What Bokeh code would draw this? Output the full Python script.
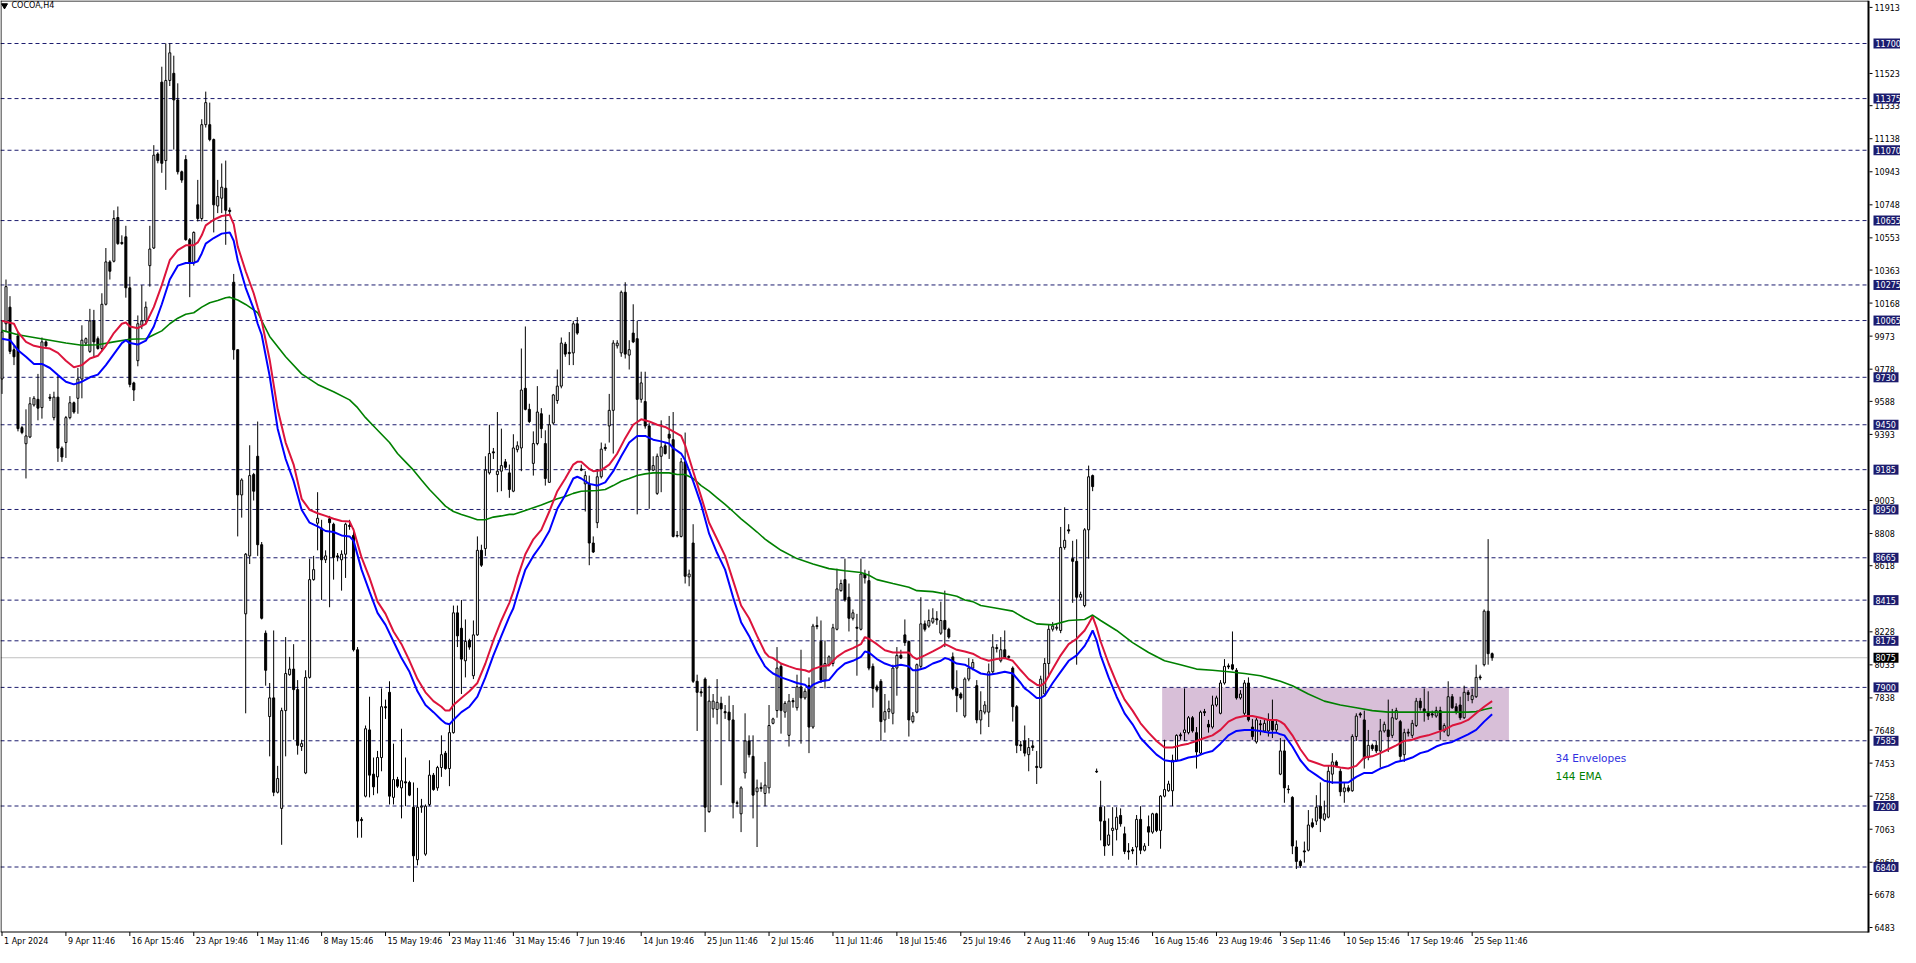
from bokeh.plotting import figure
from bokeh.models import ColumnDataSource, Range1d, BoxAnnotation
from bokeh.core.properties import value
from bokeh.embed import file_html
from bokeh.resources import INLINE

# ---------------- data ----------------
symbol_title = "COCOA,H4"

date_labels = ["1 Apr 2024", "9 Apr 11:46", "16 Apr 15:46", "23 Apr 19:46", "1 May 11:46", "8 May 15:46",
               "15 May 19:46", "23 May 11:46", "31 May 15:46", "7 Jun 19:46", "14 Jun 19:46", "25 Jun 11:46",
               "2 Jul 15:46", "11 Jul 11:46", "18 Jul 15:46", "25 Jul 19:46", "2 Aug 11:46", "9 Aug 15:46",
               "16 Aug 15:46", "23 Aug 19:46", "3 Sep 11:46", "10 Sep 15:46", "17 Sep 19:46", "25 Sep 11:46"]
bars_per_date_label = 16

opens = [
9720,10046,10144,9893,9974,9433,9338,9378,9567,9600,
9551,9939,9613,9492,9613,9312,9345,9492,9580,9606,
9720,9932,9883,10063,9958,9900,10161,10411,10415,10673,
10526,10559,10258,9697,9828,10037,10063,10389,10493,11048,
11472,11009,11482,11524,11367,10943,11015,10542,10405,10748,
10667,11221,11221,11133,10741,10787,10846,10716,10291,9893,
9036,8334,8676,9156,9264,8742,8220,7728,7838,7281,
7186,7763,7975,8008,7887,7551,7395,7959,8536,8869,
8840,8653,8895,8863,8676,8653,8686,8856,8797,8122,
7121,7258,7649,7388,7372,7486,7786,7871,7251,7356,
7307,7343,7339,7193,6883,7193,6916,7209,7382,7307,
7427,7512,7421,7633,8340,8249,8057,8177,7969,8210,
8709,8719,9166,9290,9156,9176,9231,9166,9058,9303,
9313,9665,9541,9222,9339,9515,9339,9110,9460,9593,
9678,9926,9877,9874,10046,9189,9101,9101,8752,8872,
9143,9316,9443,9535,9916,9874,10232,9861,9991,9958,
9600,9587,9443,9182,9045,9264,9326,9394,9362,8797,
8791,9231,8552,8752,7936,7874,7949,7167,7773,7770,
7806,7757,7754,7708,7219,7154,7395,7584,7493,7284,
7310,7274,7307,7688,7763,8024,7754,7617,7822,7780,
7903,7838,7910,7666,8265,8171,7943,8034,8041,8243,
8471,8536,8432,8308,8255,8243,8569,8530,8024,7903,
7936,7708,7757,7747,8014,8089,8210,8171,7698,7754,
8024,8275,8262,8285,8305,8220,8295,8243,8080,7894,
7861,7731,7949,8014,7910,7708,7754,7754,7992,8135,
8057,8122,8083,8014,7786,7561,7584,7503,7555,7434,
7427,7861,8041,8243,8249,8236,8726,8830,8660,8644,
8432,8383,8830,9150,7405,7193,7111,6971,7056,7062,
7144,7036,6935,6942,6958,7121,6939,7078,7046,7154,
7056,7258,7290,7290,7470,7620,7633,7633,7721,7633,
7512,7757,7682,7666,7796,7747,7926,8027,8034,8001,
7838,7747,7926,7666,7578,7685,7643,7643,7708,7649,
7388,7525,7300,7251,6958,6873,6935,6939,7101,7111,
7199,7121,7134,7388,7460,7405,7284,7307,7290,7610,
7744,7708,7486,7558,7558,7525,7643,7649,7617,7714,
7698,7503,7636,7617,7675,7819,7773,7754,7744,7731,
7763,7643,7617,7845,7786,7796,7721,7871,7828,7845,
7962,8034,8350,8099]

highs = [
10063,10307,10209,9916,9997,9443,9541,9613,9619,9750,
9965,9949,9632,9645,9737,9322,9502,9619,9587,9785,
10037,9965,10134,10128,9971,10226,10493,10421,10716,10738,
10568,10624,10324,9704,10095,10274,10177,10624,11100,11058,
11563,11700,11700,11628,11465,10950,11041,10552,10591,10895,
11253,11416,11351,11139,10895,10992,11009,10732,10340,9893,
9134,8693,9329,9166,9469,8758,8236,7926,8236,7437,
7780,8197,8080,8155,7943,7591,8001,8660,8676,9052,
8889,8709,8912,8872,8693,8709,8872,8889,8840,8138,
7134,7675,7845,7486,7525,7894,7828,7936,7568,7372,
7656,7486,7349,7339,7307,7242,7209,7470,7395,7437,
7617,7525,7688,8383,8383,8416,8301,8187,8295,8791,
8742,9264,9450,9313,9525,9427,9248,9215,9394,9352,
9900,10030,9574,9411,9678,9548,9417,9509,9632,9776,
9965,9939,9997,10063,10085,9215,9176,9150,8791,9189,
9345,9339,9632,9949,9949,10242,10291,9949,10161,10063,
9763,9763,9460,9264,9280,9476,9345,9502,9525,8823,
9254,9404,8595,8863,7975,7894,7959,7910,7861,7949,
7845,7796,7851,7796,7232,7317,7747,7617,7617,7356,
7339,7460,7796,7721,8138,8041,7819,7861,7838,7975,
8122,7894,7959,8275,8318,8295,8177,8089,8275,8601,
8536,8660,8513,8360,8334,8660,8595,8588,8041,7916,
7949,7861,7822,8034,8138,8122,8301,8177,7754,8041,
8432,8295,8360,8367,8350,8406,8471,8252,8106,8001,
7871,7959,8073,8067,7943,7877,7819,8041,8214,8155,
8197,8236,8089,8024,7796,7584,7675,7601,7584,7525,
7969,8073,8269,8285,8275,8847,8963,8863,8765,8774,
8465,8840,9209,9156,7421,7349,7199,7127,7193,7193,
7186,7078,6981,6958,7147,7199,6981,7144,7160,7160,
7264,7591,7349,7503,7623,7633,7894,7731,7731,7666,
7763,7773,7708,7851,7851,7943,8067,8041,8230,8014,
7884,7943,7959,7714,7721,7708,7708,7747,7828,7708,
7601,7591,7323,7258,6997,6883,6990,7176,7127,7264,
7339,7232,7437,7512,7470,7421,7339,7323,7623,7747,
7754,7763,7649,7568,7584,7714,7698,7828,7773,7780,
7708,7656,7656,7708,7838,7838,7894,7877,7763,7786,
7786,7688,7936,7861,7806,7845,7910,7884,7894,8034,
7975,8360,8775,8106]

lows = [
9632,9997,9867,9802,9411,9394,9133,9371,9557,9476,
9486,9906,9590,9476,9231,9231,9254,9482,9515,9515,
9606,9916,9874,9851,9893,9883,10154,10307,10408,10512,
10512,10200,9671,9590,9795,10014,10046,10265,10487,10993,
10937,10836,11449,11074,10927,10878,10536,10203,10389,10650,
10650,11204,11123,10585,10699,10699,10512,10683,9834,8791,
8902,7747,8628,9003,8676,8301,7910,7493,7258,7274,
6971,7493,7969,7591,7503,7525,7388,7952,8530,8709,
8416,8634,8373,8536,8644,8471,8546,8830,8112,7013,
7013,7251,7251,7264,7274,7405,7714,7209,7209,7307,
7127,7199,7258,6752,6850,7160,6906,7199,7290,7290,
7372,7414,7317,7627,8138,7861,7959,8122,7949,8204,
8611,8676,9156,9248,9052,9058,9189,9019,9052,9287,
9176,9535,9460,9150,9329,9371,9091,9110,9450,9574,
9665,9851,9802,9802,9981,9176,8938,8621,8693,8840,
9133,9296,9345,9280,9900,9851,9841,9776,9932,8921,
9580,9427,8954,9176,9036,9052,9274,9248,8785,8785,
8785,8513,8497,7926,7643,7845,7046,7160,7721,7682,
7323,7714,7584,7127,7193,7046,7362,7486,7127,6958,
7284,7199,7274,7682,7721,7627,7721,7551,7780,7763,
7568,7828,7512,7656,8243,7926,7894,8024,8024,8236,
8465,8406,8230,8295,7969,8236,8513,8001,7780,7871,
7584,7633,7714,7682,7851,8067,8145,7610,7688,7747,
8014,8230,8252,8275,8269,8210,8138,8187,7884,7754,
7828,7721,7936,8001,7688,7623,7741,7666,7982,8106,
8047,8067,8067,7698,7512,7525,7493,7405,7525,7330,
7421,7851,7959,8230,8236,8220,8713,8807,8399,8034,
8416,8373,8660,9058,7395,6997,6906,6964,6906,6997,
7078,6916,6883,6916,6850,6916,6932,6964,7036,7046,
6948,7251,7284,7199,7460,7591,7584,7623,7633,7421,
7503,7731,7633,7656,7786,7741,7916,8008,8001,7828,
7828,7731,7698,7591,7568,7617,7633,7610,7601,7633,
7382,7219,7274,6916,6828,6834,6866,6932,7069,7088,
7046,7111,7127,7330,7427,7258,7219,7281,7284,7584,
7721,7421,7470,7525,7512,7427,7633,7519,7601,7708,
7460,7460,7610,7601,7666,7763,7698,7708,7721,7721,
7591,7633,7610,7773,7741,7708,7714,7819,7806,7838,
7943,8024,8034,8057]

closes = [
9997,10265,9883,9851,9427,9404,9384,9574,9606,9548,
9939,9916,9606,9613,9312,9260,9492,9580,9525,9720,
9949,9958,10063,9939,9900,10161,10411,10356,10667,10519,
10519,10258,9688,9655,10046,10063,10144,10487,11041,11009,
10993,11482,11645,11367,10943,10894,10542,10405,10585,10667,
11221,11351,11133,10748,10797,10852,10716,10709,9893,9036,
9124,8686,9150,9058,8742,8308,8001,7838,7281,7362,
7763,7982,8008,7887,7558,7568,7959,8536,8595,8898,
8653,8676,8872,8667,8670,8686,8863,8850,8122,7111,
7114,7656,7382,7313,7486,7786,7780,7258,7356,7317,
7349,7336,7264,6906,7193,7199,7199,7382,7297,7427,
7503,7421,7633,8340,8204,8067,8171,8138,8210,8709,
8621,9182,9280,9284,9176,9209,9199,9068,9313,9326,
9655,9541,9469,9339,9525,9427,9133,9450,9626,9678,
9932,9867,9870,10046,9991,9182,9150,8752,8699,9143,
9306,9309,9535,9932,9932,10232,9867,9893,9939,9600,
9697,9443,9182,9209,9264,9319,9280,9371,8791,8794,
9231,8556,8569,7936,7871,7868,7193,7819,7819,7812,
7773,7750,7708,7219,7216,7307,7584,7503,7264,7307,
7303,7323,7675,7714,8014,7763,7806,7819,7815,7903,
7838,7877,7666,8262,8259,7943,8041,8080,8252,8481,
8513,8416,8308,8340,8249,8569,8546,8014,7894,7884,
7698,7757,7773,8014,8089,8073,8164,7708,7731,8034,
8275,8243,8295,8308,8298,8295,8243,8197,7894,7851,
7838,7949,8014,8047,7708,7763,7796,7992,8138,8129,
8122,8073,8077,7786,7558,7555,7512,7545,7545,7427,
7949,8041,8243,8262,8255,8726,8768,8823,8644,8432,
8448,8830,9143,9085,7401,7111,6964,7029,7069,7134,
7095,6932,6929,6935,7121,6939,6964,7046,7154,7056,
7258,7297,7330,7470,7617,7614,7649,7721,7643,7519,
7754,7750,7666,7796,7838,7926,8024,8021,8008,7838,
7861,7926,7708,7610,7708,7679,7688,7708,7649,7682,
7525,7307,7297,6964,6873,6847,6929,7088,7078,7193,
7127,7154,7405,7460,7437,7284,7307,7290,7610,7731,
7737,7480,7558,7538,7525,7643,7682,7610,7721,7763,
7493,7633,7630,7688,7819,7780,7754,7731,7737,7763,
7649,7675,7845,7780,7754,7721,7871,7858,7851,7959,
7956,8350,8099,8075]

# 34 Envelopes (upper = crimson, lower = blue), sampled along the bars
env_upper_x = [0,3,4,6,8,10,12,14,16,18,20,22,24,26,28,30,31,32,34,36,38,40,42,44,46,48,49,50,51,53,55,57,58,59,61,63,64,
               65,67,69,71,73,75,77,79,81,83,85,87,88,90,92,94,96,98,100,102,104,106,108,110,111,112,113,115,117,119,121,123,125,127,128,
               129,131,133,135,137,139,141,143,144,145,147,148,150,152,154,156,158,160,162,164,166,168,170,171,173,175,177,179,181,183,185,187,189,191,192,
               193,195,197,199,201,202,203,205,207,209,211,213,215,216,217,219,221,223,225,227,228,229,231,233,235,236,237,239,241,243,245,247,249,251,253,255,256,
               257,259,260,261,263,265,267,269,271,272,273,274,275,277,279,281,283,285,287,289,291,293,295,297,299,301,303,305,307,309,311,313,315,317,319,320,
               321,323,325,327,329,331,333,335,337,339,341,343,345,347,349,351,353,355,357,359,361,363,365,367,369,371,373]
env_upper = [10063,10046,9997,9939,9916,9906,9900,9874,9828,9789,9802,9841,9857,9916,9991,10046,10053,10030,10020,10046,
             10144,10274,10421,10480,10509,10509,10526,10568,10627,10660,10682,10689,10634,10503,10356,10226,10144,
             10063,9834,9541,9345,9215,9013,8948,8928,8912,8895,8882,8879,8830,8667,8546,8406,8334,8230,8155,8057,
             7949,7871,7819,7786,7763,7763,7796,7838,7877,7926,8041,8177,8295,8399,8465,
             8546,8686,8774,8830,8938,9058,9133,9215,9231,9231,9189,9176,9182,9215,9280,9371,9450,9482,9469,9450,
             9437,9411,9384,9329,9176,9026,8872,8774,8676,8530,8383,8308,8204,8106,8080,
             8073,8041,8024,8008,8001,7992,8008,8024,8031,8080,8112,8132,8155,8197,8187,8155,8119,8106,8106,8106,
             8080,8067,8089,8112,8138,8155,8145,8122,8112,8099,8073,8057,8067,8073,8057,8001,7975,
             7949,7916,7910,7926,8008,8089,8155,8187,8236,8275,8318,8253,8171,8041,7926,7828,7763,7688,7633,7584,
             7545,7545,7558,7568,7584,7601,7617,7649,7698,7721,7731,7731,7721,7708,7708,7698,
             7682,7617,7535,7470,7454,7437,7437,7427,7421,7437,7486,7493,7512,7535,7558,7584,7591,7607,7617,7633,
             7649,7675,7688,7708,7747,7786,7819]
env_lower_x = [0,2,4,6,8,10,12,14,16,18,20,22,24,26,28,30,31,32,34,36,38,40,42,44,46,48,49,50,51,53,55,57,58,59,61,63,64,
               65,67,69,71,73,75,77,79,81,83,85,87,88,90,92,94,96,98,100,102,104,106,108,110,111,112,113,115,117,119,121,123,125,127,128,
               129,131,133,135,137,139,141,143,144,145,147,149,151,153,155,157,159,161,163,165,167,168,170,171,173,175,177,179,181,183,185,187,189,191,192,
               193,195,197,199,201,202,203,205,207,209,211,213,215,216,217,219,221,223,225,227,228,229,231,233,235,236,237,239,241,243,245,247,249,251,253,255,256,
               257,259,260,261,263,265,267,269,271,272,273,274,275,277,279,281,283,285,287,289,291,293,295,297,299,301,303,305,307,309,311,313,315,317,319,320,
               321,323,325,327,329,331,333,335,337,339,341,343,345,347,349,351,353,355,357,359,361,363,365,367,369,371,373]
env_lower = [9958,9949,9890,9851,9809,9809,9785,9743,9704,9688,9704,9730,9746,9802,9867,9932,9949,9932,9923,9946,
             10030,10161,10307,10389,10405,10405,10415,10461,10519,10552,10578,10585,10536,10421,10258,10134,10046,
             9981,9737,9427,9248,9117,8948,8872,8850,8823,8817,8797,8791,8765,8595,8465,8340,8269,8171,8073,7992,
             7877,7796,7754,7708,7688,7682,7708,7754,7786,7845,7959,8089,8204,8318,8367,
             8448,8595,8676,8742,8823,8954,9036,9133,9143,9133,9101,9091,9110,9176,9264,9345,9384,9384,9362,9352,
             9339,9313,9280,9241,9117,8980,8807,8693,8595,8432,8285,8204,8106,8024,8001,
             7982,7959,7943,7926,7916,7894,7916,7936,7943,8001,8041,8057,8080,8112,8106,8067,8041,8024,8034,8024,
             8001,8001,8014,8041,8057,8073,8067,8041,8034,8008,7982,7975,7982,7992,7982,7926,7894,
             7877,7838,7838,7851,7926,7992,8057,8089,8145,8187,8236,8177,8089,7959,7845,7747,7682,7601,7551,7503,
             7470,7463,7470,7486,7493,7512,7525,7568,7617,7643,7649,7649,7643,7633,7633,7623,
             7617,7551,7470,7414,7382,7349,7339,7339,7339,7372,7395,7395,7421,7437,7460,7470,7486,7512,7525,7551,
             7568,7578,7601,7623,7649,7698,7741]

# 144 EMA (green)
ema_x = [0,4,8,12,16,20,24,28,32,36,38,40,42,44,46,48,50,52,54,56,57,59,61,63,64,
         67,71,75,79,83,87,89,91,93,95,97,99,101,103,105,107,109,111,113,115,117,119,121,123,125,127,128,
         131,135,139,141,143,145,149,151,153,155,157,159,161,163,165,167,169,171,173,175,177,179,181,183,185,187,189,191,192,
         195,199,203,207,211,215,217,219,223,227,229,233,237,239,241,243,245,249,253,256,
         259,263,267,271,273,275,279,283,287,291,295,299,303,307,311,315,320,
         323,327,331,335,339,343,347,351,355,359,363,367,369,371,373]
ema144 = [10007,9981,9965,9949,9932,9919,9922,9939,9955,9958,9981,10004,10046,10079,10102,10111,10144,10170,10183,10200,
          10203,10186,10160,10128,10111,
          9971,9851,9750,9688,9645,9597,9551,9492,9443,9394,9345,9280,9231,9182,9124,9068,9019,8970,8938,8921,
          8905,8889,8889,8905,8912,8921,8921,
          8944,8977,9013,9026,9045,9058,9062,9068,9091,9117,9133,9150,9160,9166,9166,9166,9156,9156,9133,9091,
          9058,9019,8980,8938,8895,8856,8817,8775,8758,
          8709,8660,8628,8601,8588,8578,8562,8536,8513,8491,8471,8465,8448,8438,8416,8406,8383,8367,8350,8308,
          8275,8269,8295,8301,8327,8295,8236,8164,8106,8057,8034,8008,8001,7992,7982,7969,7936,
          7910,7861,7819,7796,7780,7763,7754,7754,7754,7754,7754,7754,7757,7770,7780]

level_lines = [11700, 11375, 11070, 10655, 10275, 10065, 9730, 9450, 9185, 8950, 8665, 8415, 8175, 7900, 7585, 7200, 6840]
price_ticks = [11913, 11718, 11523, 11333, 11138, 10943, 10748, 10553, 10363, 10168, 9973, 9778, 9588, 9393,
               9198, 9003, 8808, 8618, 8423, 8228, 8033, 7838, 7648, 7453, 7258, 7063, 6868, 6678, 6483]
current_price = 8075
zone_bar_range = [290.4, 377.2]
zone_price_range = [7585, 7900]
legend_texts = ["34 Envelopes", "144 EMA"]

# ---------------- layout (page pixels -> data) ----------------
FONT = "DejaVu Sans"
W, H = 1900, 947
PAGE_OFF = 8                 # body margin
PX_PER_BAR = 3.995
BAR0_PAGE_X = 9.5
REF_PRICE, REF_PAGE_Y = 11700, 51.0
PX_PER_PRICE = 884.0 / (11700 - 6483)


def bx(page_x):
    return (page_x - BAR0_PAGE_X) / PX_PER_BAR


def py(page_y):
    return REF_PRICE - (page_y - REF_PAGE_Y) / PX_PER_PRICE


AXIS_X = 1876.0          # price-scale line
CHART_BOTTOM = 939.5     # bottom border of chart area
CHART_TOP = 8.5
CHART_LEFT = 8.5

p = figure(width=W, height=H, output_backend="svg", toolbar_location=None,
           x_range=Range1d(bx(PAGE_OFF), bx(PAGE_OFF + W)),
           y_range=Range1d(py(PAGE_OFF + H), py(PAGE_OFF)),
           x_axis_location=None, y_axis_location=None, min_border=0)
p.background_fill_color = "white"
p.border_fill_color = "white"
p.outline_line_color = None
p.xgrid.visible = False
p.ygrid.visible = False

# zone rectangle
p.add_layout(BoxAnnotation(left=zone_bar_range[0], right=zone_bar_range[1],
                           bottom=zone_price_range[0], top=zone_price_range[1],
                           fill_color="#d8bfd8", fill_alpha=1.0, line_alpha=0, level="underlay"))

# horizontal level lines (stop at the price scale)
x_left, x_axis = bx(PAGE_OFF), bx(AXIS_X - 1)
p.segment(x0=[x_left] * len(level_lines), y0=level_lines, x1=[x_axis] * len(level_lines), y1=level_lines,
          line_color="#1c1c6e", line_dash="4 3", line_width=1)
p.segment(x0=[x_left], y0=[current_price], x1=[x_axis], y1=[current_price],
          line_color="#c0c0c0", line_width=1)

# candles
n = min(len(opens), len(highs), len(lows), len(closes))
idx = list(range(n))
src = ColumnDataSource(dict(
    x=idx, o=opens[:n], h=highs[:n], l=lows[:n], c=closes[:n],
    top=[max(a, b) for a, b in zip(opens[:n], closes[:n])],
    bot=[min(a, b) for a, b in zip(opens[:n], closes[:n])],
    fill=["white" if c >= o else "black" for o, c in zip(opens[:n], closes[:n])],
))
p.segment(x0="x", y0="l", x1="x", y1="h", source=src, line_color="black", line_width=1)
p.vbar(x="x", width=2.0 / PX_PER_BAR, top="top", bottom="bot", source=src,
       fill_color="fill", line_color="black", line_width=1)

# indicator lines
p.line(ema_x, ema144, line_color="#008000", line_width=1.6)
p.line(env_upper_x, env_upper, line_color="#dc143c", line_width=2)
p.line(env_lower_x, env_lower, line_color="#0000ff", line_width=2)

# chart borders and price-scale line
p.segment(x0=[bx(CHART_LEFT), bx(PAGE_OFF)], y0=[py(PAGE_OFF), py(CHART_TOP)],
          x1=[bx(CHART_LEFT), bx(AXIS_X)], y1=[py(CHART_BOTTOM), py(CHART_TOP)],
          line_color="black", line_width=1)
p.segment(x0=[bx(PAGE_OFF)], y0=[py(CHART_BOTTOM)], x1=[bx(AXIS_X)], y1=[py(CHART_BOTTOM)],
          line_color="black", line_width=1)
p.segment(x0=[bx(AXIS_X)], y0=[py(PAGE_OFF)], x1=[bx(AXIS_X)], y1=[py(CHART_BOTTOM + 0.5)],
          line_color="black", line_width=2)

# price scale: ticks + labels (labels fully hidden under a level tag are not drawn, as in the terminal)
shown_ticks = [t for t in price_ticks
               if min(abs(t - lv) for lv in level_lines + [current_price]) * PX_PER_PRICE > 3.5]
nt = len(shown_ticks)
p.segment(x0=[bx(AXIS_X + 1)] * nt, y0=shown_ticks, x1=[bx(AXIS_X + 4)] * nt, y1=shown_ticks,
          line_color="black", line_width=1)
p.text(x=[bx(1882)] * nt, y=shown_ticks, text=[str(t) for t in shown_ticks],
       text_font=value(FONT), text_font_size="8px", text_color="black",
       text_align="left", text_baseline="middle")

# highlighted level tags
tag_w = [30 if lv >= 10000 else 25 for lv in level_lines]
p.rect(x=[bx(1881 + w / 2.0) for w in tag_w], y=level_lines, width=tag_w, height=10,
       width_units="screen", height_units="screen", fill_color="#1c1c6e", line_color=None)
p.text(x=[bx(1883)] * len(level_lines), y=level_lines, text=[str(lv) for lv in level_lines],
       text_font=value(FONT), text_font_size="8px", text_color="#ffffff",
       text_align="left", text_baseline="middle")
p.rect(x=[bx(1881 + 12.5)], y=[current_price], width=25, height=10,
       width_units="screen", height_units="screen", fill_color="black", line_color=None)
p.text(x=[bx(1883)], y=[current_price], text=[str(current_price)],
       text_font=value(FONT), text_font_size="8px", text_color="#ffffff",
       text_align="left", text_baseline="middle")

# time scale: ticks + labels
date_ticks = [i * bars_per_date_label for i in range(len(date_labels))]
ndt = len(date_ticks)
p.segment(x0=date_ticks, y0=[py(CHART_BOTTOM)] * ndt, x1=date_ticks, y1=[py(CHART_BOTTOM + 4)] * ndt,
          line_color="black", line_width=1)
p.text(x=[t + 2.0 / PX_PER_BAR for t in date_ticks], y=[py(CHART_BOTTOM + 5)] * ndt, text=date_labels,
       text_font=value(FONT), text_font_size="8px", text_color="black",
       text_align="left", text_baseline="top")

# legend texts
p.text(x=[bx(1563)], y=[py(765)], text=[legend_texts[0]], text_color="#3030e0",
       text_font=value(FONT), text_font_size="10.5px", text_baseline="middle", text_align="left")
p.text(x=[bx(1563)], y=[py(783)], text=[legend_texts[1]], text_color="#008000",
       text_font=value(FONT), text_font_size="10.5px", text_baseline="middle", text_align="left")

# title
p.scatter([bx(12)], [py(13)], marker="inverted_triangle", size=6, fill_color="black", line_color="black")
p.text(x=[bx(19)], y=[py(13)], text=[symbol_title], text_color="black",
       text_font=value(FONT), text_font_size="8px", text_baseline="middle", text_align="left")

open("out.html", "w").write(file_html(p, INLINE))
